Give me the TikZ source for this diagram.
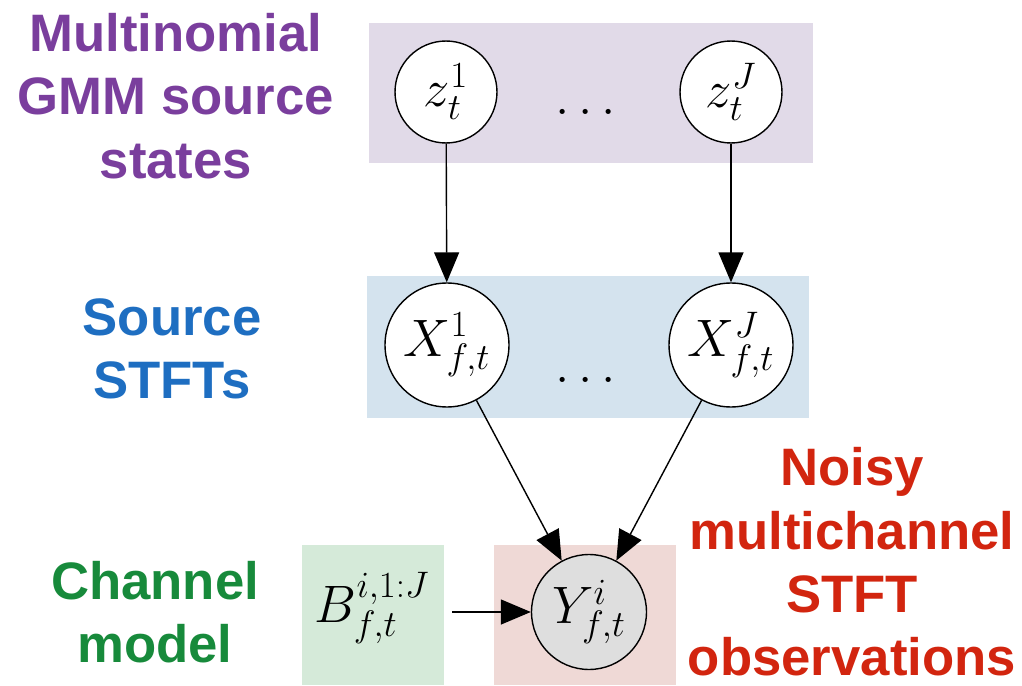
\RequirePackage{fix-cm}
\documentclass[tikz,border=0pt]{standalone}
\usepackage{amsmath}
\usepackage{fontspec}
\setmainfont{Liberation Sans}
\usepackage{tikz}
\usetikzlibrary{positioning, arrows.meta, shapes}
\usepackage{xcolor}
\definecolor{statecolor}{HTML}{E1DAE8}
\definecolor{sourcecolor}{HTML}{D4E3EE}
\definecolor{channelcolor}{HTML}{D5EAD9}
\definecolor{obscolor}{HTML}{EFD9D6}
\definecolor{statetext}{HTML}{7A3E9D}
\definecolor{sourcetext}{HTML}{1E6EC1}
\definecolor{channeltext}{HTML}{178A3B}
\definecolor{obstext}{HTML}{D2250F}
\newcommand{\mathsize}{\fontsize{30}{36}\selectfont}

\begin{document}
\begin{tikzpicture}[
      % GLOBAL CFG
      x=0.02cm, y=-0.02cm,
      >={Triangle[length=0.6cm, width=0.5cm]},
      % Styles
      plate/.style={% For shaded groups
        rectangle,
        inner sep=0pt,
        draw=none
      },
      var/.style={% For random variables
        circle,
        draw,
        thick,
        fill=white,
        inner sep=0pt,
        font=\mathsize
      },
      label/.style={% For side labels
        align=center,
        font=\fontsize{30}{36}\selectfont\bfseries
      },
      arrowdep/.style={% Arrows for dependencies
        thick,
        ->
      }
      ]
      \useasboundingbox (0,0) rectangle (1022,686);

      % Shaded groups
      \node [plate, fill=statecolor, minimum width=8.88cm, minimum height=2.8cm] (stateplate) at (591,93) {};
      \node [plate, fill=sourcecolor, minimum width=8.86cm, minimum height=2.84cm] (sourceplate) at (588,347) {};
      \node [plate, fill=channelcolor, minimum width=2.84cm, minimum height=2.82cm] (channelplate) at (373,615) {};
      \node [plate, fill=obscolor, minimum width=3.64cm, minimum height=2.82cm] (obsplate) at (585,615) {};

      % Source states
      \node [var, minimum size=2.04cm] (z1) at (446,92) {$z_t^1$};
      \node [var, minimum size=2.04cm] (zJ) at (731,92) {$z_t^J$};
      \node [font=\mathsize] (zdots) at (590,112) {$\dots$};

      % Source STFTs
      \node [var, minimum size=2.48cm] (x1) at (447,345) {$X_{f,t}^1$};
      \node [var, minimum size=2.48cm] (xJ) at (731,345) {$X_{f,t}^J$};
      \node [font=\mathsize] (xdots) at (590,380) {$\dots$};
      \draw [arrowdep] (z1) -- (x1);
      \draw [arrowdep] (zJ) -- (xJ);

      % Channel and observations
      \node [font=\mathsize] (b) at (372,608) {$B_{f,t}^{i,1:J}$};
      \node [var, fill=black!13, minimum size=2.3cm] (y) at (589,612) {$Y_{f,t}^i$};
      \draw [arrowdep] (x1) -- (y);
      \draw [arrowdep] (xJ) -- (y);
      \coordinate (bout) at (452,612);
      \draw [arrowdep] (bout) -- (y);

      % Labels
      \node [label, text=statetext] (statelabel) at (176,96) {Multinomial\\GMM source\\states};
      \node [label, text=sourcetext] (sourcelabel) at (172,349) {Source\\STFTs};
      \node [label, text=channeltext] (channellabel) at (155,612) {Channel\\model};
      \node [label, text=obstext] (obslabel) at (852,562) {Noisy\\multichannel\\STFT\\observations};

    \end{tikzpicture}
\end{document}
